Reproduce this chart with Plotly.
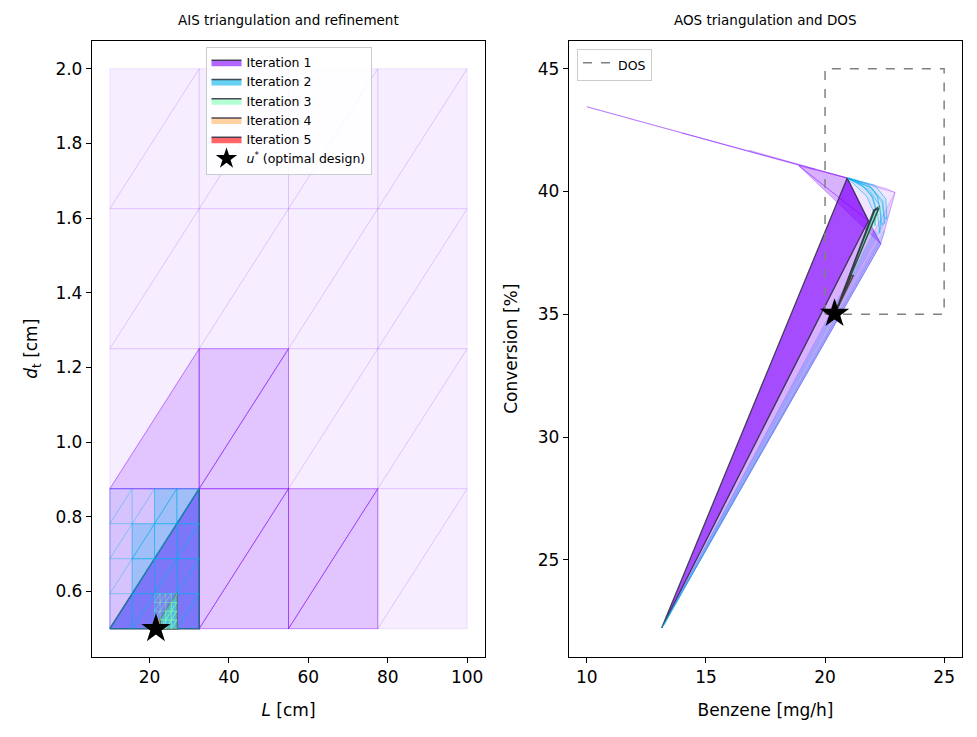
import plotly.graph_objects as go

# ---------------- data ----------------
ITER_NAMES = ["Iteration 1", "Iteration 2", "Iteration 3", "Iteration 4", "Iteration 5"]
ITER_RGB = [(128, 0, 255), (0, 180, 235), (128, 255, 180), (255, 180, 98), (255, 0, 0)]

# AIS grids (L [cm], d_t [cm]) for each refinement level
L_GRID_1 = [10, 32.5, 55, 77.5, 100]
DT_GRID_1 = [0.5, 0.875, 1.25, 1.625, 2.0]
L_GRID_2 = [10, 15.625, 21.25, 26.875, 32.5]
DT_GRID_2 = [0.5, 0.59375, 0.6875, 0.78125, 0.875]
L_GRID_3 = [21.25, 22.656, 24.0625, 25.469, 26.875]
DT_GRID_3 = [0.5, 0.5234, 0.5469, 0.5703, 0.59375]
L_GRID_4 = [21.25, 21.602, 21.953, 22.305, 22.656]
DT_GRID_4 = [0.5, 0.5059, 0.5117, 0.5176, 0.5234]
L_GRID_5 = [21.602, 21.69, 21.777, 21.865, 21.953]
DT_GRID_5 = [0.5, 0.5015, 0.5029, 0.5044, 0.5059]

# kept (feasible) triangles per level: (column, row, half)
KEPT_1 = [(0, 0, "ul"), (1, 0, "lr"), (1, 0, "ul"), (2, 0, "lr"), (2, 0, "ul"),
          (0, 1, "lr"), (1, 1, "lr"), (1, 1, "ul")]
KEPT_2 = [(0, 0, "lr"), (1, 0, "lr"), (1, 0, "ul"), (2, 0, "ul"), (3, 0, "lr"), (3, 0, "ul"),
          (1, 1, "lr"), (1, 1, "ul"), (2, 1, "lr"), (2, 1, "ul"), (3, 1, "lr"), (3, 1, "ul"),
          (1, 2, "lr"), (1, 2, "ul"), (2, 2, "lr"), (2, 2, "ul"), (3, 2, "lr"), (3, 2, "ul"),
          (2, 3, "lr"), (2, 3, "ul"), (3, 3, "lr"), (3, 3, "ul")]
KEPT_3 = [(0, 0, "lr"), (1, 0, "lr"), (1, 0, "ul"), (2, 0, "lr"), (2, 0, "ul"), (3, 0, "lr"),
          (3, 0, "ul"), (1, 1, "lr"), (2, 1, "lr"), (2, 1, "ul"), (3, 1, "lr"), (3, 1, "ul"),
          (2, 2, "lr"), (3, 2, "lr"), (3, 2, "ul"), (3, 3, "lr")]
KEPT_4 = [(0, 0, "lr"), (1, 0, "lr"), (1, 0, "ul"), (2, 0, "lr")]
KEPT_5 = [(0, 0, "lr"), (1, 0, "lr")]
SELECTED = [(0, 0, "lr"), (2, 0, "lr"), (0, 0, "lr"), (1, 0, "lr"), (1, 0, "lr")]

# optimal design
U_STAR_AIS = (21.6, 0.5)
U_STAR_AOS = (20.4, 35.03)

# DOS box (Benzene, Conversion)
DOS_BENZENE = [20, 25]
DOS_CONVERSION = [35, 45]

# AOS images (Benzene [mg/h], Conversion [%]) of the triangles
AOS_BASE_1 = [
    [(10.0, 43.45), (18.95, 41.05), (19.6, 40.88)],
    [(10.0, 43.45), (19.6, 40.88), (20.93, 40.55)],
    [(14.0, 42.38), (18.9, 41.08), (20.93, 40.55)],
    [(16.8, 41.68), (18.9, 41.1), (20.93, 40.55)],
    [(20.93, 40.55), (22.94, 39.96), (22.34, 37.86)],
    [(20.93, 40.55), (22.6, 40.12), (22.94, 39.96)],
    [(13.14, 22.23), (22.34, 37.86), (22.94, 39.96)],
]
AOS_KEPT_1 = [
    [(18.9, 41.05), (20.93, 40.55), (21.82, 38.81)],
    [(18.9, 41.05), (21.82, 38.81), (22.34, 37.86)],
    [(13.14, 22.23), (21.82, 38.81), (22.34, 37.86)],
]
AOS_SEL_1 = [(13.14, 22.23), (20.93, 40.55), (21.82, 38.81)]

AOS_BASE_2 = [
    [(13.14, 22.23), (22.34, 37.86), (22.3, 37.95)],
    [(13.2, 22.3), (22.5, 38.3), (22.47, 38.4)],
    [(13.14, 22.23), (22.12, 38.38), (22.15, 38.3)],
    [(13.25, 22.35), (22.6, 38.9), (22.58, 38.98)],
]
AOS_KEPT_2 = [
    [(20.95, 40.55), (21.8, 40.3), (22.2, 39.8), (22.35, 39.1), (22.3, 38.3),
     (22.2, 39.1), (22.02, 39.72), (21.6, 40.22)],
    [(20.95, 40.55), (21.95, 40.15), (22.4, 39.55), (22.5, 38.7), (22.38, 38.65),
     (22.28, 39.45), (21.85, 40.05)],
    [(20.95, 40.55), (21.5, 40.3), (21.95, 39.85), (22.15, 39.2), (22.1, 38.6),
     (22.03, 39.2), (21.75, 39.8)],
    [(21.0, 40.55), (22.1, 40.25), (22.55, 39.7), (22.6, 38.9), (22.5, 38.9),
     (22.42, 39.62), (21.95, 40.15)],
]
AOS_SEL_2 = [(20.42, 35.05), (22.3, 39.4), (22.05, 39.25)]

AOS_BASE_3 = [
    [(20.45, 35.1), (22.32, 39.4), (22.36, 39.25)],
]
AOS_KEPT_3 = [
    [(20.45, 35.1), (22.28, 39.38), (22.2, 39.3)],
]
AOS_SEL_3 = [(20.45, 35.1), (22.25, 39.32), (22.08, 39.22)]

AOS_KEPT_4 = [[(20.42, 35.05), (21.22, 36.62), (21.18, 36.6)]]
AOS_SEL_4 = [(20.42, 35.05), (21.2, 36.6), (21.1, 36.56)]
AOS_SEL_5 = [(20.4, 35.03), (20.62, 35.45), (20.57, 35.42)]

# ---------------- helpers ----------------
DARK_EDGE = "rgba(45,45,60,0.85)"


def rgba(rgb, a):
    return "rgba(%d,%d,%d,%.3f)" % (rgb[0], rgb[1], rgb[2], a)


def tri(Lg, Dg, i, j, half):
    if half == "lr":
        xs = [Lg[i], Lg[i + 1], Lg[i + 1], Lg[i]]
        ys = [Dg[j], Dg[j], Dg[j + 1], Dg[j]]
    else:
        xs = [Lg[i], Lg[i], Lg[i + 1], Lg[i]]
        ys = [Dg[j], Dg[j + 1], Dg[j + 1], Dg[j]]
    return xs, ys


def poly(pts):
    xs = [p[0] for p in pts] + [pts[0][0]]
    ys = [p[1] for p in pts] + [pts[0][1]]
    return xs, ys


fig = go.Figure()


def add_poly(xs, ys, fill, edge, width, axis):
    fig.add_trace(go.Scatter(
        x=xs, y=ys, mode="lines", fill="toself", fillcolor=fill,
        line=dict(color=edge, width=width), hoverinfo="skip", showlegend=False,
        xaxis="x" if axis == 1 else "x2", yaxis="y" if axis == 1 else "y2"))


# ---------------- AIS (left) ----------------
grids = [(L_GRID_1, DT_GRID_1), (L_GRID_2, DT_GRID_2), (L_GRID_3, DT_GRID_3),
         (L_GRID_4, DT_GRID_4), (L_GRID_5, DT_GRID_5)]
kept_all = [KEPT_1, KEPT_2, KEPT_3, KEPT_4, KEPT_5]
base_alpha = [0.07, 0.05, 0.08, 0.1, 0.1]
base_edge_alpha = [0.12, 0.35, 0.5, 0.6, 0.6]
kept_alpha = [0.17, 0.25, 0.3, 0.3, 0.3]
kept_edge_alpha = [0.45, 0.45, 0.6, 0.7, 0.7]
edge_width = [0.8, 0.6, 0.5, 0.5, 0.5]

for k in range(5):
    Lg, Dg = grids[k]
    col = ITER_RGB[k]
    for j in range(4):
        for i in range(4):
            for half in ("lr", "ul"):
                xs, ys = tri(Lg, Dg, i, j, half)
                add_poly(xs, ys, rgba(col, base_alpha[k]), rgba(col, base_edge_alpha[k]),
                         edge_width[k], 1)
    for (i, j, half) in kept_all[k]:
        xs, ys = tri(Lg, Dg, i, j, half)
        add_poly(xs, ys, rgba(col, kept_alpha[k]), rgba(col, kept_edge_alpha[k]),
                 edge_width[k], 1)
    i, j, half = SELECTED[k]
    xs, ys = tri(Lg, Dg, i, j, half)
    add_poly(xs, ys, rgba(col, 0.6), DARK_EDGE, 1.5, 1)

fig.add_trace(go.Scatter(x=[U_STAR_AIS[0]], y=[U_STAR_AIS[1]], mode="markers",
                         marker=dict(symbol="star", size=22, color="black"),
                         showlegend=False, hoverinfo="skip", xaxis="x", yaxis="y"))

# ---------------- AOS (right) ----------------
aos_layers = [
    (AOS_BASE_1, AOS_KEPT_1, AOS_SEL_1),
    (AOS_BASE_2, AOS_KEPT_2, AOS_SEL_2),
    (AOS_BASE_3, AOS_KEPT_3, AOS_SEL_3),
    ([], AOS_KEPT_4, AOS_SEL_4),
    ([], [], AOS_SEL_5),
]
aos_base_alpha = [0.1, 0.04, 0.2, 0.2, 0.2]
aos_base_edge = [0.25, 0.35, 0.4, 0.4, 0.4]
aos_kept_alpha = [0.3, 0.1, 0.4, 0.4, 0.4]
aos_kept_edge = [0.35, 0.65, 0.7, 0.8, 0.8]
for k, (base, kept, sel) in enumerate(aos_layers):
    col = ITER_RGB[k]
    for p in base:
        xs, ys = poly(p)
        add_poly(xs, ys, rgba(col, aos_base_alpha[k]), rgba(col, aos_base_edge[k]), 0.7, 2)
    for p in kept:
        xs, ys = poly(p)
        add_poly(xs, ys, rgba(col, aos_kept_alpha[k]), rgba(col, aos_kept_edge[k]), 0.9, 2)
    xs, ys = poly(sel)
    add_poly(xs, ys, rgba(col, 0.7 if k == 0 else 0.6), DARK_EDGE, 1.3, 2)

# DOS rectangle
fig.add_trace(go.Scatter(
    x=[DOS_BENZENE[0], DOS_BENZENE[1], DOS_BENZENE[1], DOS_BENZENE[0], DOS_BENZENE[0]],
    y=[DOS_CONVERSION[0], DOS_CONVERSION[0], DOS_CONVERSION[1], DOS_CONVERSION[1], DOS_CONVERSION[0]],
    mode="lines", fill="toself", fillcolor="rgba(0,0,0,0)",
    line=dict(color="#808080", width=1.5, dash="dash"), name="DOS",
    legend="legend2", hoverinfo="skip", xaxis="x2", yaxis="y2"))

fig.add_trace(go.Scatter(x=[U_STAR_AOS[0]], y=[U_STAR_AOS[1]], mode="markers",
                         marker=dict(symbol="star", size=22, color="black"),
                         showlegend=False, hoverinfo="skip", xaxis="x2", yaxis="y2"))

# ---------------- legend entries ----------------
for k in range(5):
    fig.add_trace(go.Scatter(x=[None], y=[None], mode="lines", fill="toself",
                             fillcolor=rgba(ITER_RGB[k], 0.6),
                             line=dict(color=DARK_EDGE, width=1.5),
                             name=ITER_NAMES[k], legend="legend", xaxis="x", yaxis="y"))
fig.add_trace(go.Scatter(x=[None], y=[None], mode="markers",
                         marker=dict(symbol="star", size=16, color="black"),
                         name="<i>u</i><sup>*</sup> (optimal design)", legend="legend",
                         xaxis="x", yaxis="y"))

# ---------------- layout ----------------
axis_common = dict(showline=True, mirror=True, linecolor="black", linewidth=1.3,
                   ticks="outside", ticklen=5, tickwidth=1.2, tickcolor="black",
                   showgrid=False, zeroline=False, tickfont=dict(size=17))
W, H = 977, 737
fig.update_layout(
    width=W, height=H, margin=dict(l=0, r=0, t=0, b=0),
    plot_bgcolor="white", paper_bgcolor="white",
    font=dict(family="DejaVu Sans", size=17, color="black"),
    xaxis=dict(domain=[92 / W, 485 / W], range=[5.5, 104.5], tickvals=[20, 40, 60, 80, 100],
               title=dict(text="<i>L</i> [cm]", font=dict(size=17), standoff=17), **axis_common),
    yaxis=dict(domain=[1 - 656.7 / H, 1 - 40.7 / H], range=[0.425, 2.075],
               tickvals=[0.6, 0.8, 1.0, 1.2, 1.4, 1.6, 1.8, 2.0],
               ticktext=["0.6", "0.8", "1.0", "1.2", "1.4", "1.6", "1.8", "2.0"],
               title=dict(text="<i>d</i><sub>t</sub> [cm]", font=dict(size=17), standoff=13),
               **axis_common),
    xaxis2=dict(domain=[569 / W, 962 / W], range=[9.25, 25.75], tickvals=[10, 15, 20, 25],
                anchor="y2", title=dict(text="Benzene [mg/h]", font=dict(size=17), standoff=17),
                **axis_common),
    yaxis2=dict(domain=[1 - 656.7 / H, 1 - 40.7 / H], range=[21.06, 46.14],
                tickvals=[25, 30, 35, 40, 45], anchor="x2",
                title=dict(text="Conversion [%]", font=dict(size=17), standoff=15),
                **axis_common),
    legend=dict(x=288.5 / W, xanchor="center", y=1 - 46.7 / H, yanchor="top",
                bgcolor="rgba(255,255,255,0.85)", bordercolor="#cccccc", borderwidth=1,
                font=dict(size=12.5), tracegroupgap=0),
    legend2=dict(x=577 / W, xanchor="left", y=1 - 49 / H, yanchor="top",
                 bgcolor="rgba(255,255,255,0.85)", bordercolor="#cccccc", borderwidth=1,
                 font=dict(size=12.5)),
    annotations=[
        dict(text="AIS triangulation and refinement", x=288.5 / W, y=1 - 20 / H,
             xref="paper", yref="paper", xanchor="center", yanchor="middle",
             showarrow=False, font=dict(size=13.5)),
        dict(text="AOS triangulation and DOS", x=765.5 / W, y=1 - 20 / H,
             xref="paper", yref="paper", xanchor="center", yanchor="middle",
             showarrow=False, font=dict(size=13.5)),
    ],
)

fig.write_html("out.html")
